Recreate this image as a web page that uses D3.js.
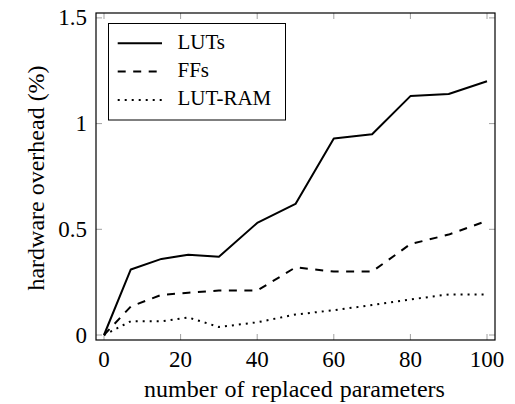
<!DOCTYPE html>
<html><head><meta charset="utf-8">
<script src="https://cdn.jsdelivr.net/npm/d3@7"></script>
<style>
body{margin:0;background:#fff}
svg text{font-family:"Liberation Serif",serif !important;}
</style>
</head><body>
<svg id="chart" width="515" height="404" style="font-family:'Liberation Serif',serif"></svg>
<script>
const xValues = [0, 7, 15, 22, 30, 40, 50, 60, 70, 80, 90, 100];
const seriesNames = ["LUTs", "FFs", "LUT-RAM"];
const lutValues = [0, 0.31, 0.36, 0.38, 0.37, 0.53, 0.62, 0.93, 0.95, 1.13, 1.14, 1.2];
const ffValues = [0, 0.135, 0.19, 0.20, 0.21, 0.21, 0.32, 0.30, 0.30, 0.43, 0.475, 0.54];
const lutRamValues = [0, 0.065, 0.065, 0.083, 0.038, 0.06, 0.097, 0.117, 0.142, 0.168, 0.192, 0.192];
const xTicks = [0, 20, 40, 60, 80, 100];
const yTicks = [0, 0.5, 1, 1.5];
const yTickLabels = ["0", "0.5", "1", "1.5"];

const frame = {l: 96, r: 495, t: 13, b: 340};
const svg = d3.select("#chart");
const x = d3.scaleLinear().domain([0, 100]).range([104, 487]);
const y = d3.scaleLinear().domain([0, 1.5]).range([335, 17.9]);

function txt(sel, size) { return sel.append("text").style("font-family", "Liberation Serif").attr("font-size", size).attr("fill", "#000"); }

const tickLen = 6, gray = "#a0a0a0";
const g = svg.append("g");
xTicks.forEach(t => {
  g.append("line").attr("x1", x(t)).attr("x2", x(t)).attr("y1", frame.b).attr("y2", frame.b - tickLen).attr("stroke", gray).attr("stroke-width", 1);
  g.append("line").attr("x1", x(t)).attr("x2", x(t)).attr("y1", frame.t).attr("y2", frame.t + tickLen).attr("stroke", gray).attr("stroke-width", 1);
});
yTicks.forEach(t => {
  g.append("line").attr("x1", frame.l).attr("x2", frame.l + tickLen).attr("y1", y(t)).attr("y2", y(t)).attr("stroke", gray).attr("stroke-width", 1);
  g.append("line").attr("x1", frame.r).attr("x2", frame.r - tickLen).attr("y1", y(t)).attr("y2", y(t)).attr("stroke", gray).attr("stroke-width", 1);
});
xTicks.forEach(t => {
  txt(svg, 23).attr("x", x(t)).attr("y", 367).attr("text-anchor", "middle").text(t);
});
yTicks.forEach((t, i) => {
  txt(svg, 23).attr("x", 87).attr("y", y(t) + 7.5).attr("text-anchor", "end").text(yTickLabels[i]);
});

const series = [
  {name: seriesNames[0], vals: lutValues, dash: null},
  {name: seriesNames[1], vals: ffValues, dash: "8,7.5"},
  {name: seriesNames[2], vals: lutRamValues, dash: "2,5"}
];
const line = d3.line().x(d => x(d[0])).y(d => y(d[1]));
series.forEach(s => {
  svg.append("path").datum(xValues.map((v, i) => [v, s.vals[i]]))
    .attr("d", line).attr("fill", "none").attr("stroke", "#000").attr("stroke-width", 2)
    .attr("stroke-linejoin", "round")
    .attr("stroke-dasharray", s.dash);
});

svg.append("rect").attr("x", frame.l).attr("y", frame.t).attr("width", frame.r - frame.l).attr("height", frame.b - frame.t)
  .attr("fill", "none").attr("stroke", "#000").attr("stroke-width", 1.2);

const lg = svg.append("g");
lg.append("rect").attr("x", 108.5).attr("y", 23.5).attr("width", 177).attr("height", 96.5).attr("fill", "#fff").attr("stroke", "#000").attr("stroke-width", 1);
series.forEach((s, i) => {
  const yy = 43.3 + i * 28.3;
  lg.append("line").attr("x1", 117.7).attr("x2", 162).attr("y1", yy).attr("y2", yy).attr("stroke", "#000").attr("stroke-width", 2).attr("stroke-dasharray", s.dash);
  txt(lg, 21).attr("x", 177.5).attr("y", yy + 5.5).text(s.name);
});

txt(svg, 24).attr("x", 294.5).attr("y", 397).attr("text-anchor", "middle").attr("word-spacing", 1).text("number of replaced parameters");
txt(svg, 24).attr("transform", `translate(44,178) rotate(-90)`).attr("text-anchor", "middle").text("hardware overhead (%)");
</script>
</body></html>
